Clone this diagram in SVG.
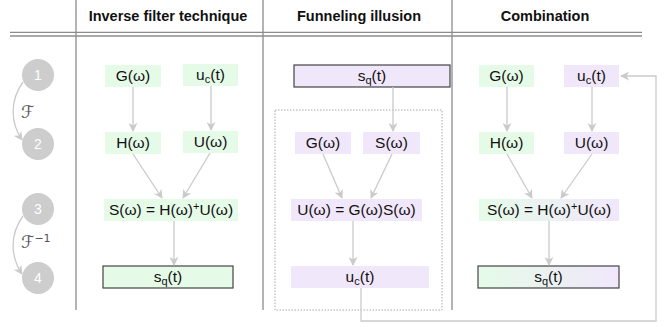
<svg xmlns="http://www.w3.org/2000/svg" width="665" height="327" viewBox="0 0 665 327">
<style>
text{font-family:"Liberation Sans",Arial,sans-serif;fill:#111;}
.hd{font-size:14.5px;font-weight:bold;text-anchor:middle;}
.t{font-size:15.5px;text-anchor:middle;}
.g{fill:#e5fbe8;}
.p{fill:#f1e7fb;}
.b{stroke:#444;stroke-width:1.2;}
.cn line,.cn path{stroke:#cacaca;stroke-width:1.3;fill:none;}
.grid{stroke:#8c8c8c;stroke-width:1.3;}
.st circle{fill:#cdcdcd;}
.st text{fill:#fff;font-size:14px;text-anchor:middle;}
.sub{font-size:11px;}
.fr{font-family:"DejaVu Sans","DejaVu Serif",serif;font-size:17px;fill:#555;}
</style>
<defs>
<marker id="ah" viewBox="0 0 10 10" refX="9" refY="5" markerWidth="9" markerHeight="9" markerUnits="userSpaceOnUse" orient="auto">
<path d="M0,0 L10,5 L0,10 L3,5 z" fill="#cacaca"/>
</marker>
<linearGradient id="gp" x1="0" y1="0" x2="1" y2="0">
<stop offset="0" stop-color="#e5fbe8"/>
<stop offset="1" stop-color="#f1e7fb"/>
</linearGradient>
</defs>
<rect width="665" height="327" fill="#fff"/>
<g id="grid">
<line class="grid" x1="76" y1="0" x2="76" y2="310"/>
<line class="grid" x1="263" y1="0" x2="263" y2="310"/>
<line class="grid" x1="452" y1="0" x2="452" y2="310"/>
<line class="grid" x1="10" y1="32.3" x2="642" y2="32.3"/>
<line class="grid" x1="10" y1="36" x2="642" y2="36"/>
<text class="hd" x="168" y="21">Inverse filter technique</text>
<text class="hd" x="359" y="21">Funneling illusion</text>
<text class="hd" x="545" y="21">Combination</text>
</g>
<g id="steps" class="st">
<circle cx="38" cy="75" r="16"/><text x="38" y="80">1</text>
<circle cx="38" cy="144" r="16"/><text x="38" y="149">2</text>
<circle cx="38" cy="209" r="16"/><text x="38" y="214">3</text>
<circle cx="38" cy="278" r="16"/><text x="38" y="283">4</text>
</g>
<g id="steparrows" class="cn">
<path d="M23,82 C10,100 10,122 22,140" marker-end="url(#ah)"/>
<path d="M23,216 C10,234 10,256 22,274" marker-end="url(#ah)"/>
</g>
<text class="fr" x="21" y="118">ℱ</text>
<text class="fr" x="21" y="248">ℱ<tspan dy="-6" style="font-size:11px">−1</tspan></text>

<rect id="dotbox" x="275" y="110" width="167" height="200" fill="none" stroke="#aaa" stroke-width="1" stroke-dasharray="1.5,1.5"/>

<g id="c1">
<g id="c1-G"><rect class="g" x="105" y="65" width="56" height="22"/><text class="t" x="133" y="81">G(ω)</text></g>
<g id="c1-uc"><rect class="g" x="183" y="64" width="55" height="22"/><text class="t" x="210.5" y="80">u<tspan class="sub" dy="3">c</tspan><tspan dy="-3">(t)</tspan></text></g>
<g id="c1-H"><rect class="g" x="105" y="132" width="56" height="22"/><text class="t" x="133" y="148">H(ω)</text></g>
<g id="c1-U"><rect class="g" x="183" y="131" width="55" height="22"/><text class="t" x="210.5" y="147">U(ω)</text></g>
<g id="c1-S"><rect class="g" x="104" y="199" width="134" height="22"/><text class="t" x="171" y="215">S(ω) = H(ω)<tspan class="sub" dy="-5">+</tspan><tspan dy="5">U(ω)</tspan></text></g>
<g id="c1-sq"><rect class="g b" x="103" y="266" width="130" height="22"/><text class="t" x="168" y="282">s<tspan class="sub" dy="3">q</tspan><tspan dy="-3">(t)</tspan></text></g>
</g>

<g id="c2">
<g id="c2-sq"><rect class="p b" x="294" y="65" width="156" height="22"/><text class="t" x="372" y="81">s<tspan class="sub" dy="3">q</tspan><tspan dy="-3">(t)</tspan></text></g>
<g id="c2-G"><rect class="p" x="295" y="132" width="56" height="22"/><text class="t" x="323" y="148">G(ω)</text></g>
<g id="c2-S"><rect class="p" x="363" y="132" width="57" height="22"/><text class="t" x="391.5" y="148">S(ω)</text></g>
<g id="c2-U"><rect class="p" x="291" y="199" width="131" height="22"/><text class="t" x="356.5" y="215">U(ω) = G(ω)S(ω)</text></g>
<g id="c2-uc"><rect class="p" x="291" y="266" width="138" height="22"/><text class="t" x="360" y="282">u<tspan class="sub" dy="3">c</tspan><tspan dy="-3">(t)</tspan></text></g>
</g>

<g id="c3">
<g id="c3-G"><rect class="g" x="479" y="65" width="55" height="22"/><text class="t" x="506.5" y="81">G(ω)</text></g>
<g id="c3-uc"><rect class="p" x="564" y="65" width="55" height="22"/><text class="t" x="591.5" y="81">u<tspan class="sub" dy="3">c</tspan><tspan dy="-3">(t)</tspan></text></g>
<g id="c3-H"><rect class="g" x="479" y="132" width="55" height="22"/><text class="t" x="506.5" y="148">H(ω)</text></g>
<g id="c3-U"><rect class="p" x="564" y="132" width="55" height="22"/><text class="t" x="591.5" y="148">U(ω)</text></g>
<g id="c3-S"><rect fill="url(#gp)" x="479" y="199" width="140" height="22"/><text class="t" x="549" y="215">S(ω) = H(ω)<tspan class="sub" dy="-5">+</tspan><tspan dy="5">U(ω)</tspan></text></g>
<g id="c3-sq"><rect fill="url(#gp)" class="b" x="478" y="266" width="141" height="22"/><text class="t" x="548.5" y="282">s<tspan class="sub" dy="3">q</tspan><tspan dy="-3">(t)</tspan></text></g>
</g>

<g id="connectors" class="cn">
<line x1="133" y1="87" x2="133" y2="131" marker-end="url(#ah)"/>
<line x1="211" y1="86" x2="211" y2="130" marker-end="url(#ah)"/>
<line x1="133" y1="154" x2="162" y2="198" marker-end="url(#ah)"/>
<line x1="210" y1="153" x2="183" y2="198" marker-end="url(#ah)"/>
<line x1="174" y1="221" x2="174" y2="265" marker-end="url(#ah)"/>

<line x1="393" y1="87" x2="393" y2="131" marker-end="url(#ah)"/>
<line x1="323" y1="154" x2="342" y2="198" marker-end="url(#ah)"/>
<line x1="392" y1="154" x2="371" y2="198" marker-end="url(#ah)"/>
<line x1="353" y1="221" x2="353" y2="265" marker-end="url(#ah)"/>
<path d="M361,288 V321 H656 V76 H621" marker-end="url(#ah)"/>

<line x1="507" y1="87" x2="507" y2="131" marker-end="url(#ah)"/>
<line x1="592" y1="87" x2="592" y2="131" marker-end="url(#ah)"/>
<line x1="507" y1="154" x2="532" y2="198" marker-end="url(#ah)"/>
<line x1="592" y1="154" x2="561" y2="198" marker-end="url(#ah)"/>
<line x1="549" y1="221" x2="549" y2="265" marker-end="url(#ah)"/>
</g>
</svg>
